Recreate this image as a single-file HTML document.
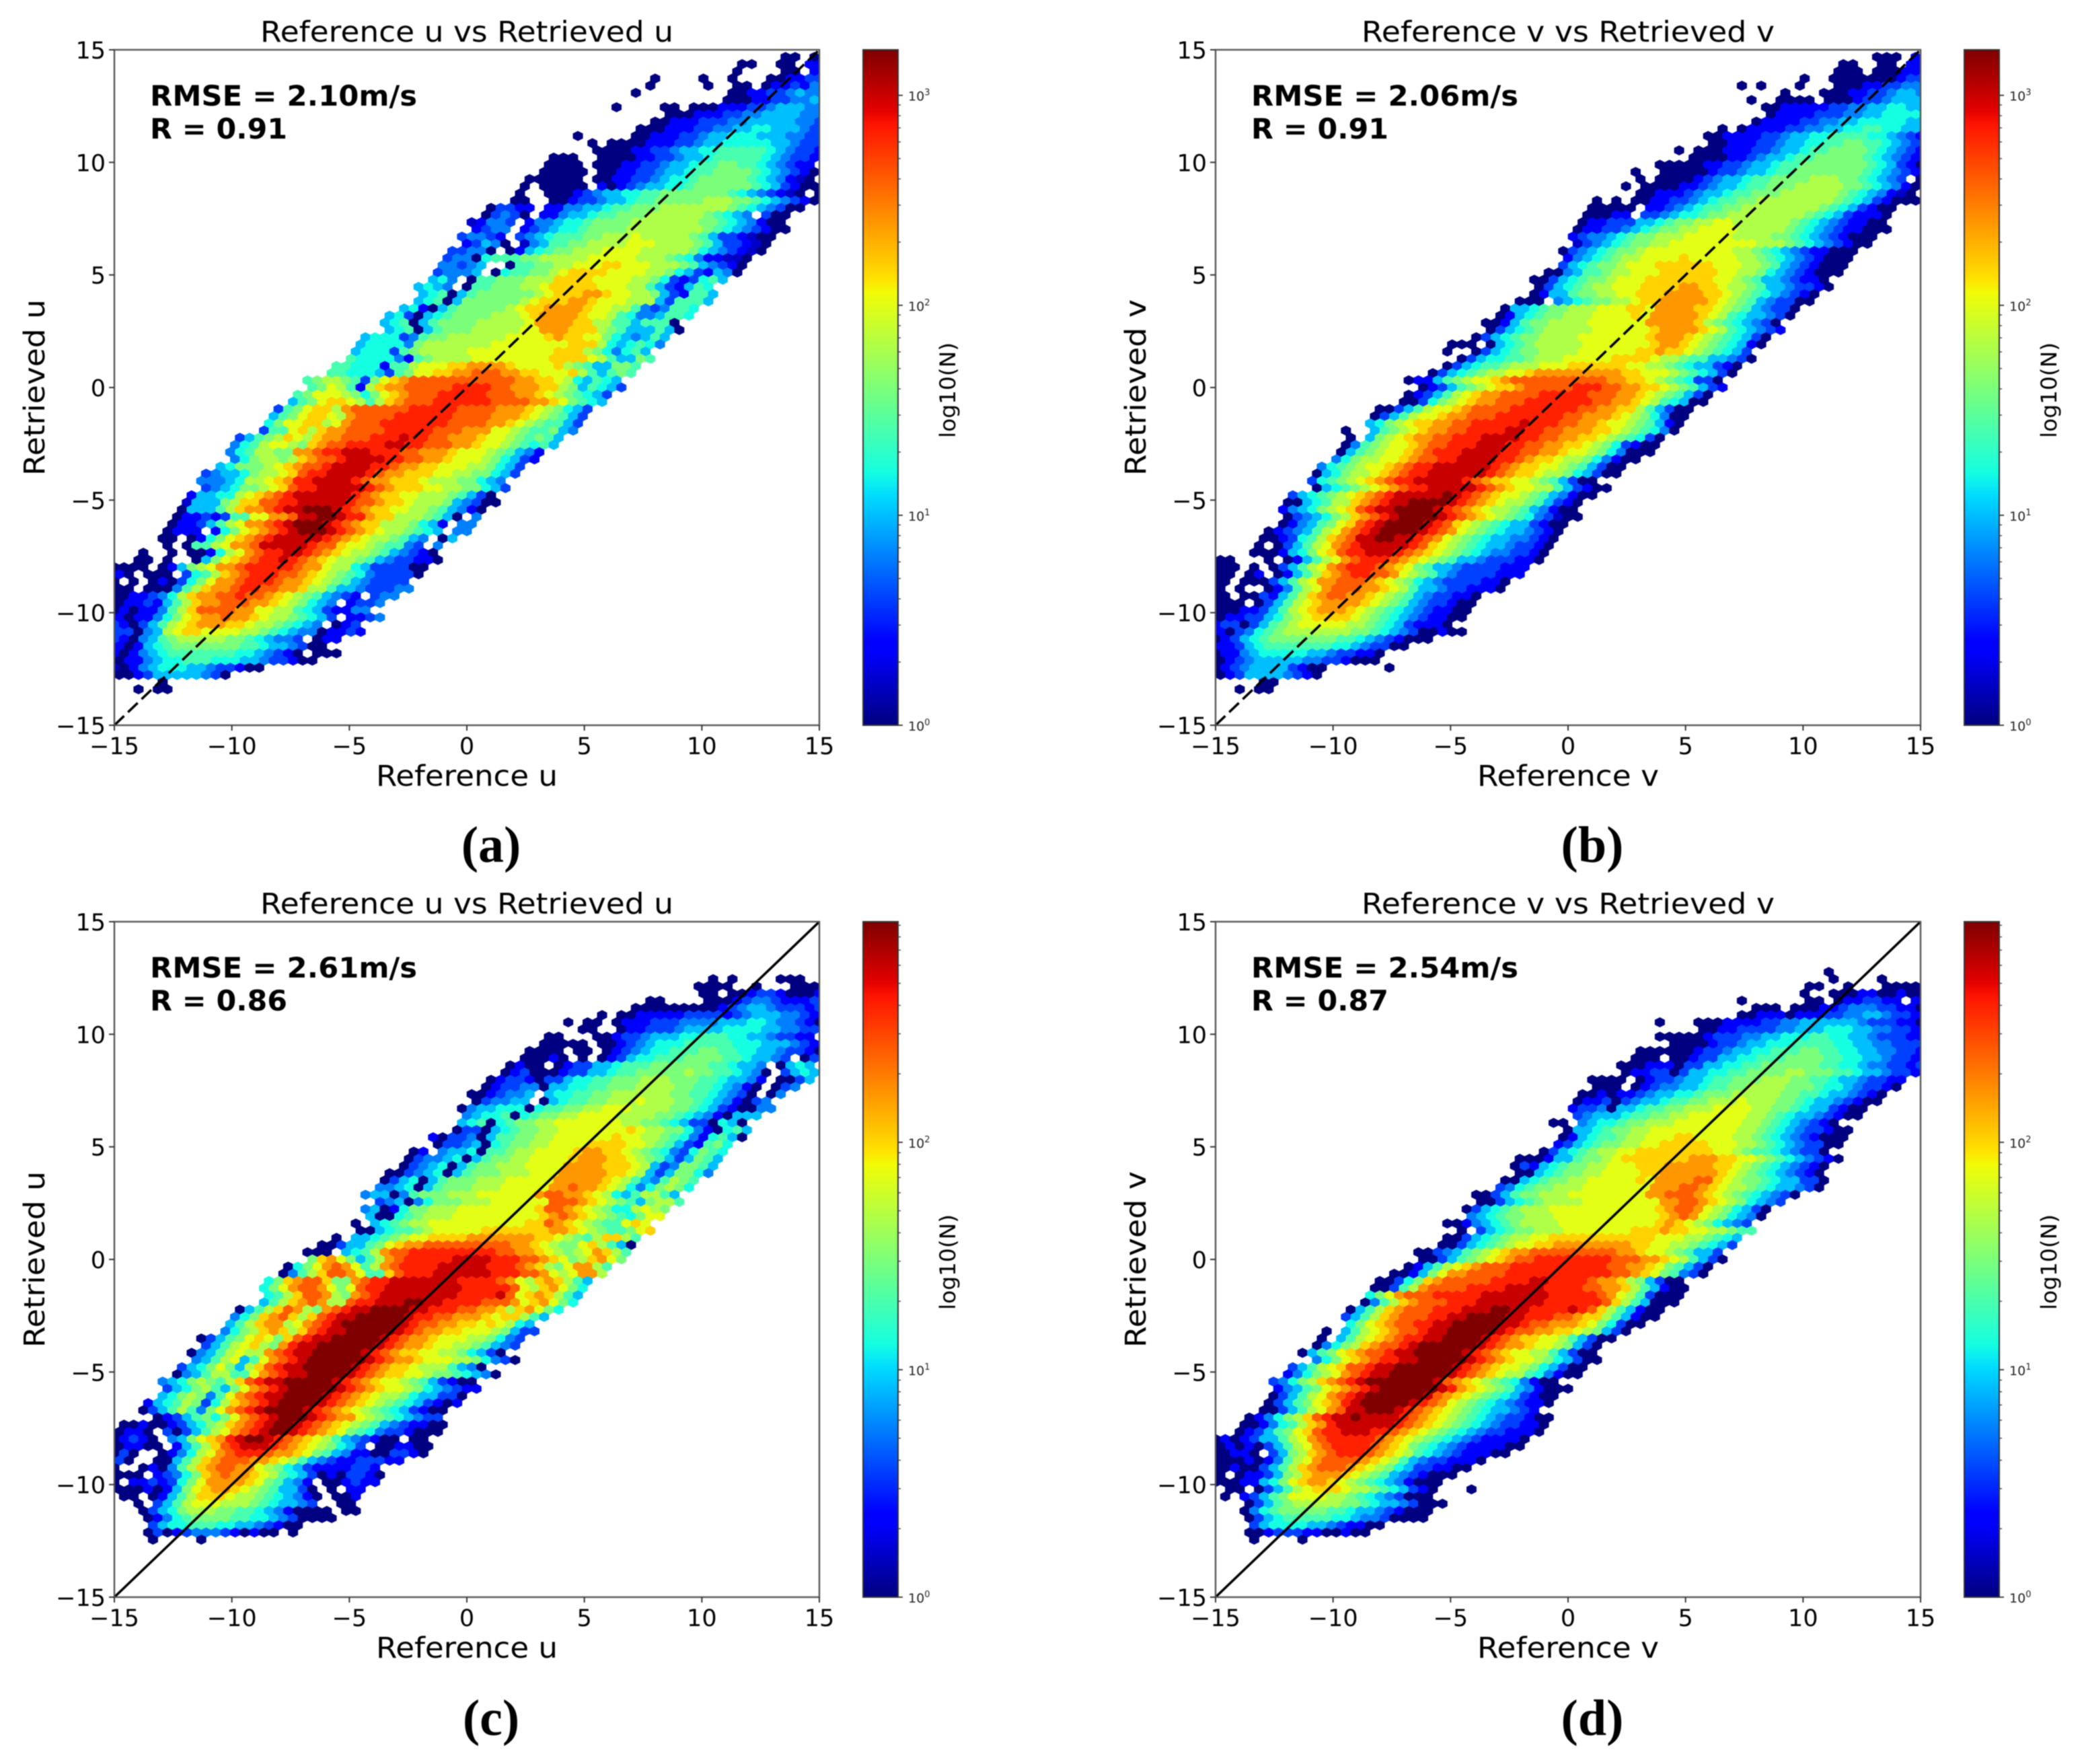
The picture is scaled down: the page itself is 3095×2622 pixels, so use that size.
<!DOCTYPE html>
<html lang="en">
<head>
<meta charset="utf-8">
<title>Reference vs Retrieved wind components</title>
<style>
html,body{margin:0;padding:0;background:#fff;}
svg{display:block;filter:blur(0.9px);}
text{font-family:"DejaVu Sans","Liberation Sans",sans-serif;fill:#000;}
</style>
</head>
<body>
<svg id="figure" xmlns="http://www.w3.org/2000/svg" width="3095" height="2622" viewBox="0 0 3095 2622">
<defs>
<linearGradient id="jetGradient" x1="0" y1="1" x2="0" y2="0">
<stop offset="0" stop-color="#00007f"/><stop offset="0.11" stop-color="#0000ff"/><stop offset="0.125" stop-color="#0000ff"/><stop offset="0.34" stop-color="#00dbff"/><stop offset="0.375" stop-color="#15ffe1"/><stop offset="0.5" stop-color="#7cff79"/><stop offset="0.64" stop-color="#f1fc06"/><stop offset="0.66" stop-color="#ffe200"/><stop offset="0.89" stop-color="#ff1300"/><stop offset="0.91" stop-color="#e30000"/><stop offset="1" stop-color="#7f0000"/>
</linearGradient>
</defs>
</svg>
<script>
// Level digits (base 36, 0..G): log10(N) = digit / 16 * panel log-max. '.' is an empty bin.
// Array index = hex row from the top of the axes. '|' marks where the 1:1 line crosses the row:
// characters before it are the bins left of the line, characters after it the bins right of it.
const panelARows=["",
"00.|0","00..00|.22","0....00|.22","0....0..0...00|2233","0.....0..00.02|23243",
"0.........0022|334544","00022|334455","0....00.0002223|3455544","000222334|45555444","002223334|455555443",
"0002223344|5566555433","0.....0022233455|6665554433","0.000022233455|66666554332","000022334556|677777654332","000..00002233455|677777654332",
"0000.00022334556|778877654322","00000.0022334556|7788887654320","000000.002233456|67888887654210","0.00000.20234556|678888887653200","0..000234556677|888888876543210.0",
"00..002334556778|88889998876543200","03322.22445567788|8999999987654300","03430.22455677888|99999987654.300","12443.24456678888|9999999887654200","2344.234566788889|9999999876543200",
"34432.34567778899|9A99999875332100","23540.1457788999|9AAA999987533210","33440.0256788999|AAAA9999986543210","344067778899999A|AAAA999876422110","44345..0778899AA|ABBAAA9998754320",
"34445.0677889ABB|BBAAAA9986532540","564.077888999BB|BBAAAA9986323675","5654.07788899ABB|BBBAAA997532576","5670578888889AB|BBCCBAA998532775","567058888889ABB|BCCBAAA999537775",
"562057888889ABB|CCCCBAA997434776","56305678888999AB|CCCCBAA976445776","567057888899999|ACCCCBB997757770","56705788899999A|ACCCBBB987555750","566634788999999A|AAABCBBAA8654575",
"56666489999999AA|AAAAAABBB9656764","566637899999AAA|AAAAAABBB9864675","7666642789999AAA|AAAAABBBBA975587","776662779AAABBCC|CCBAAAAB98755887","776665378AABBCCD|DDCCBBAAAB975787",
"78998738ABCDDDDDD|DDDDDCCBBA965765","78A9729BCCDDDDDEE|EEDDCCCBB9857653","78AAA9868ABCDDDEE|EEEDDDCCBA987653","578ABBA979BCDDDEE|EEEEDDDDCCBA8765","378ABB9CDDDDDDEEE|EEDDDDCCCBA98653",
"578ABBA9CDDDDEEEE|EEDDDDCCCBA98753","68AABB9ACDDDEEEEE|EEDDDDCCBA987753","377AB9BCCDDDDEEEE|EDDDCCCAA9877854","35789BA9BCCDDDEEEF|EEDDCCCBAA987875","4679AA98BCDDEEEEFF|EEDDDCCBAA987675",
"4679988CCDEEFFFEEE|DDCCCBAAA987542","4689989BCDDEFFFFE|EDDCCBAAA986532","568889ABCDDEFFFFE|EDCCBBAAA998653","34556899ABDEEFFFFE|DCCBBBAA9988653","4445699ABCEEFFFFE|DCCBBBA99988654",
"3456889ABDEEFFFFF|EDCBBBAA9988653","255669ABCDEFFFFFF|EDCBBAA99987530","155589BBDDEEFFFFF|EDDCBBA999854300","055579BCCDEFFGGG|FEDCBBAA99875420","02232377AACCDFFGG|FEECBB9998750.4",
"0223579ACCDEFGGG|FEDCBB9998652.44","0222.268ABCDEFGG|GFEDCBA998765.44","00.0268ABCDEFFF|FFEDCBA998754.05","0.0779ACCDFFFF|FEDDBAA987743.4","0..0.00269ACDEEF|FEDCBA998754320",
"00.0..058ABCDEEF|EDCBA99875433220","0000.02589ACCDEEE|EEDCCA9965333300","020.000.3679BCDEE|EDDCBA9876433330","0.0.020368ACCDEE|EDCCBA987543333","00.000479BCCDEE|DDCCB99755433344",
"00223469BCCDDE|DDCBA9875432.344","02232579BCCDD|DCCBA98654.2334","02022479BDDD|DCCAA9976532244","2022468ABCCD|CCBA9987653.2234","3203579ABCC|CBBA9987654.023",
"330459ABBA|AAA9987654402232","320457899|99988765443.022","202567888|8888776554300","20245677|777776654320.000","0224566|77766655433200",
"102456|6655433200","00235|5555430","|0","0.|00"];

const panelBRows=["",
"000.|2","00..00|.222","000.000|223","0..000000|0233","0.0...0...00022|33445",
"0...00022|334554","0..0000.00023|345555","0022222334|4556655","022223334|45566665","022223344|556666655",
"0.0222233445|5667766554","0022223345566|7777665432","002223345566|77887765432","0.000222334556|778888765432","000022345567|7888887654320",
"000002233455677|8888888765320","0..00000233455677|88888887654320","0.0000234556778|8889998876543.0","0.00002234556778|889999988765420","0022234556778|8899999987654210",
"0.0.00223345677889|9999999876532000","00000.22345677889|999999987653200","00022.33456678899|999999876532220","02233355678899AA|9999998765432200","0223345678899AAAA|9999987654322000",
"234456788999AAAA|A999988765432000","1345678899AAAAA|AAAA999876543200","034567889AAAAAA|AAA9987654322000","24567899AAAABA|AAAA998765432000","3567889AAABBBB|BBAAA99875432000",
"004577899AAABBB|BBBAA99865432000","003567889AAABBB|BBBBAA9875543220","03567899AAABBB|BCCBBA99875543320","025578899AABBB|CCCCBBA987654320","000.45678899ABB|CCCCCBA987543300",
"0556788999AAABB|ACCCCBBA98754330","0256788999AAAAB|ACCCCCBA97655430","00257889999AAAA|AACCCCCB98765430","03567899999AAAA|AABCCCCBA9765432","03567889999AAAA|AAABCCCBA9876530",
"000.0567899999AAA|AAAABCCBA9876520","0..03567889999AA|AAAABBCBBA987653","03566778999AAAA|ABBBBA9987755430","0356778999AAABB|BBBBAA9987655320","03567899AABCCCCC|CCCCBBAAA9876530",
"0225789AABCDDDDDD|DDDDCCBBA9876330","0235789ABBCDDDDD|EEEDDCCBBA987532","023579ABCCDDDDEE|EEEDDDCCBA987530","003689ABCCDDDEEE|EEEEDDCCBA976500","003579AABCDDDDEEE|EEEEDDCCBB975300",
"03579AABCCDDDEEEE|EEEDDCCCBA986400","5689ABBCCDDEEEEEF|EEEDDCCBAA987520","0..5789ABCCDDEEEEFF|EEDDCCCBBA987640","0.589ABCCDDEEEFFF|FEEDDCCBBA987630","04789AABCDDEEEFFF|EEDDCCBBA9863200",
"05789AABCDEEEFFFF|EEDDCCBAA9864000","46899AABCDDEEFFFF|EEDCBBA99864200","46789AABCDEEFFFFF|FEDCBBAA9875300","056899ABCDEEFFFFF|FEDCBBA99865300","36789ABCDEEFFFFF|EDCBBAA9875300",
"056789ABCDEEFFFF|FEDCBAA99753200","356789ABCDEFFFFFG|FEDCBAA98754200","0056799BCDEFFGGGG|FEDCBA99875320","245689ABDEFFGGGG|FEDCBA998754200","0345689BCDEFGGGG|FEDCBA987643100",
"024578ABDEFGGGG|FEDBA9876553200","0234579ACDEFGGGG|FEDCA9876554320","0023679BCDFFGGF|FEDCA98765544320","0.03579ACDEFFFF|FEDBA98765543320","0002568ABDEEFFF|EDCBA98765443320",
"00...0.02579ACDEEE|DCBA987554333220","000.0.03579ACDEEE|DCBA875543333222","00.02.02579BCDEE|DDCA987543333222","00.0003579ACCDDD|CBA986543333220","0.0..02479ACDDD|CCBA97554332220",
"00.0032579BCDD|CCBA9875433220","000.03579ABCC|CCBA9875433200","000223579ABC|CCBA98765432200","022335689ABB|BBA98765432200","233035789AA|AAA99876532220",
"2034678999|9999887654300200","023567888|88887765432000","223567777|77766543300","02245666|6655433220","0234555|5544332000",
"023455|553200......0","02355|554320","|00","0.|00"];

const panelCRows=["","","","","","","","",
"0.0..|..000","0000..|0...000","00.0|023320002","00....000|234432223","0000000002|3455433323",
"0.00222223333|23455544322","0.00.0222333444|455566544320","00..022333455|55666655443320","00...00233455566|777665543322","00000.0023456667|77776665554320",
"0000.00.02345667|778877665543320","00020.0.02356677|788887765543.035","0200.02335567778|88888776554.0565","02300023355677888|88988776540.3565","02332033566778889|998887765542.0035",
"02334405566778889|999887765420.034","0023445.566778899|9999887765430.04","034455.0567788999|A9998876542034","045566606778899AA|A999988765320044","456670678899AAAA|999988765420555",
"5670678899AAAAA|AA9988765330650","03305678899AAAA|AAABA99886420675","2033405778899AAAA|AABAA99876426750","033450678899AAAA|BBBBAA987532786","02.4556077899AAAA|BCCBBA9876436876",
"0344560578899AAAA|BCCCBBA987535875","0345605788999AAAA|CCCCBBBA95348875","003456057888999AAA|CCCCCBBA95358864","0356057888999AAAA|ACCCCCBA97547987","4456057888999AAAA|ACCDCCBA96468986",
"455047888999AAAAA|ACDDCCBA96579975","345046888999AAAA|AADDDCBA98758997","4502688999AAAAAA|AABDDCBA98669A98","500678999AAAAAA|AAABCDCBA98768AA","0.567899AAAAAAA|AAABBDCBA9877ABA",
"00567789AAAAABB|BBBBBCCBA98778AB","0.556789AABBBBCC|CCCCCBBA9879BB97","0035578ABCCDDDDDD|DDDCCBA988AB9750","000.5679CDDEEEEEE|EEEDDCCBA989ACB97","8BCA8579CDEEEEEFF|FFEEEDDCBA89BCA8",
"068ACDCA79CDEEEEFF|FFFEEEDCB98ACC97","0479BDDCA77BDEEEFF|FFFFEEEDDCA9ACC9","68BCDDB88CDEEFFFFF|FFEEEEDCA9BCB975","68ACDDCA8ADEEFFFFF|FFFEEEEEDA9BCA86","679BDDC98CDEFFFFF|FFFEEEEFDABCB975",
"579BCDC99DEEFFFGG|FFEEEEDDDCABCA86","0579BDC98CDEFFGGGG|FFEEEDDCCB9BCA86","468BCDB9BDEFFGGGGG|FEEDDCCCBABB975","579BCC9ACDEFGGGGGG|FEDDCCBBABA965","4689BCB9BDEFFGGGGG|FEDCCBBAAA98533",
"03578ABA8BDEFFGGGGG|FEDCCBAAA998643","3579AB98CEFFGGGGGG|FEDCCBAA9987543","04579A99CDEFFGGGGG|FEDCBBAA9986530","4579A57ACDEFGGGGGG|FEDCCBAAA9986430","3568A859BDEFFGGGGG|FEDCBBA9997540",
"04579977ACDEFFGGGG|FEDCBBAA98876540","45689879BDEFFGGGGG|FEDCBAA98753200","35689758ACDEFGGGGG|FEDCBAA98654322","5689847ACDEFFGGGG|FEDCBA998655330","256798369BCDEFGGGG|FEDCBA987653202",
"03579748ACDEFGGGG|FEDCBA987653200","02357868ACDEFGG|GFEDCCA98765433","00200235689BCDEFGG|FEDCBA9875432200","0220.303579ACDEFGG|FEDCBA8764332000","02320.458ABCEFGGF|EDCBA97543200.00",
"02200.2579BDEFFF|EDCBA98653.002200","030..02469ACDEEE|DCCBA875422003320","30..00579BCDDDC|CBA975432233322","0..020479BCDDC|CA986532222332","000.23468BCDC|CBA976530203320",
"0.2232368ACC|CCBA87542.002322","00020258ABCC|BA9875530.0.22",".00.02579BB|BA998765420.002","..0.3579AA|A9998765543..00","...035689|99887765420000.00",
"...024678|88877665430000","....3566|777665543200","...0302|3444320200.0","0.|...0"];

const panelDRows=["","","","","","","",
"0....|","0..|..0","00..0|...00000","0..0|002200200","0......00.|0223322.22",
"000.0002|2344433220","002220222|33445543322","0...000222233445|555554333220","00223333445|5566655443322","000002333445566|6776655433322",
"0000233455666|77776655443333","000000233455667|778877665544332","000.00233556677|7888877665543322","000222033556677|88888877665443323","022330355667788|88998887765543322",
"0000.023345567788|8999887765543322","000.023445567788|9999888766543320","0020223455667888|9999988776554320","02230345567788999|A99988765543200","233405567788999A|AAA998876553200",
"345556778899AAA|AAA998765543200","00.4566788999AAA|AAAA9987654320","055678899AAAAA|AAAA998765433200","025677899AAABB|AAAA998765432000","235678899AABBB|BBAAA99876543300",
"03567899AABBBB|BBBBAA9877654330","0002557889ABBBBB|BBCCCBBAA987654320","0325678899AAABBB|CCCCCBBA987654320","005678899AAAABB|CCCCCCBA987654320","005678899AAAAAB|ACCCCDDBA9887655330",
"346788999AAAAAA|ACCCDDCBA9987655430","0035788999AAAAAA|AACCDDDCBA98765430","00356789999AAAAA|AAACCDDCBA986543","035678999AAAAAAA|AAAABCDDCA986530","456788999AAAAAA|AAAAABCDCA986540",
"002456789999AAAA|AAAAAABCBA986543","0.356788999AAAA|AAABBBCBBAA99877","003567899AABBBB|BBBBBBBAAA998765","00356789AABBCCC|CCCCCBBAA9987653","00345789ABCCDDDD|DDDDDCCBAA987553",
"0035789ABCDDEEEE|EEEEDDDCCBA97530","02579ABCDDDEEEEE|EEEEEDDCCBA87530","00258ACCDDDDEEEEE|EEEEEEDDCBA87430","00368BCDDDDDEEEEF|FEEEEDCCB985300","00379CDDDDEEEEFFF|FEEEEDDCCB975200",
"68ACDDDEEEEEFFFFF|FFEEEEEDCA973000","0479BCDDDEEEFFFFF|FFEEEEEEDB975000","0579BCDDDEEEFFFGG|FFEEEEFEDB975200","3579BCDDDEEFFGGGG|FFEEEDDCBB975200","68ABCDDEEFFGGGGG|FFEDDCCCBA86300",
"0.579ABCDDEFFGGGGG|FEDDCCBBA98530","0.579ABCDEEFFGGGG|FEDCBBAA975300","04689BCDDEFGGGGGG|FEDCCBAA98530","0578ABCDDEFFGGGGG|FEDCBAA9975300","468ABCDEEFFGGGGG|FEDCBAA9865300",
"3579ABDDEFFGGGGGG|FEDCBAA9865300","24689ACDEFFGGGGGG|FEDCBA99764200","34689BCDEFGGGGGGG|FDCBA98764200","24578ABCDEFGGGGGG|FECBA987542000","03579ACDEFGGGGGG|FDCBA987653200",
"03578ABCEFGGGGGF|EDCA9876543220","003579ACDFFGGGF|EDCBA987655432","024689BDEFFGFFFF|EDCBA98765433200","0024679BCEFFFFFF|EDCBA98765433220","023578ABDEEFFFEE|DCBA987654332220",
"020235579ACDEEEEE|DCBA987654322220","020203579ACDEEEE|DCBA876543222200","00220.3589BCDEEE|DCBA97654322200","000202479ACDDDD|CBA9754332220","002003579BCDDD|CBA9865332200",
"0.0223589BCCC|BA9875432000","00022568ABCC|BA9876542000",".00.03579ABB|BA998765320...0",".0.23578AAA|A99876543000","...0357899|99988765543000",
"...046788|88877655432000","...035677|7776654430000","....3566|6655432200","...0023|332200200","0.|...0"];

const xTicks=[-15,-10,-5,0,5,10,15];
const yTicks=[-15,-10,-5,0,5,10,15];
const panelTitles=["Reference u vs Retrieved u","Reference v vs Retrieved v","Reference u vs Retrieved u","Reference v vs Retrieved v"];
const xLabels=["Reference u","Reference v","Reference u","Reference v"];
const yLabels=["Retrieved u","Retrieved v","Retrieved u","Retrieved v"];
const rmseLabels=["RMSE = 2.10m/s","RMSE = 2.06m/s","RMSE = 2.61m/s","RMSE = 2.54m/s"];
const rLabels=["R = 0.91","R = 0.91","R = 0.86","R = 0.87"];
const captions=["(a)","(b)","(c)","(d)"];
const logMax=[3.217,3.217,2.97,2.97];
const hexRows=[panelARows,panelBRows,panelCRows,panelDRows];
const dashedDiagonal=[true,true,false,false];

const NS="http://www.w3.org/2000/svg";
const root=document.getElementById('figure');
const hexWidth=30/73, rowHeight=30/94;

function setAttrs(el,o){for(const k in o){el.setAttribute(k,o[k]);}return el;}
function jetChannel(p,pts){
  for(let i=1;i<pts.length;i++){
    if(p<=pts[i][0]){
      const a=pts[i-1],b=pts[i];
      return a[1]+(b[1]-a[1])*(p-a[0])/(b[0]-a[0]);
    }
  }
  return pts[pts.length-1][1];
}
function jet(p){
  p=Math.max(0,Math.min(1,p));
  const r=jetChannel(p,[[0,0],[.35,0],[.66,1],[.89,1],[1,.5]]);
  const g=jetChannel(p,[[0,0],[.125,0],[.375,1],[.64,1],[.91,0],[1,0]]);
  const b=jetChannel(p,[[0,.5],[.11,1],[.34,1],[.65,0],[1,0]]);
  return 'rgb('+Math.round(r*255)+','+Math.round(g*255)+','+Math.round(b*255)+')';
}
function yOfRow(r){return 15-r*rowHeight;}
// Column index whose bin sits on the 1:1 line (x = y) for a given row.
function crossingColumn(r){return Math.round((yOfRow(r)+15)/hexWidth);}

function drawPanel(idx){
  const col=idx%2, row=idx>>1;
  const left=170+col*1637, top=74+row*1296, w=1048, h=1004;
  const xScale=v=>left+(v+15)/30*w;
  const yScale=v=>top+(15-v)/30*h;

  const g=document.createElementNS(NS,'g');
  
  
  root.appendChild(g);

  const clip=document.createElementNS(NS,'clipPath');
  clip.setAttribute('id','axes-clip-'+idx);
  const clipRect=document.createElementNS(NS,'rect');
  setAttrs(clipRect,{x:left,y:top,width:w,height:h});
  clip.appendChild(clipRect);
  g.appendChild(clip);

  const cells=document.createElementNS(NS,'g');
  cells.setAttribute('clip-path','url(#axes-clip-'+idx+')');
  
  
  g.appendChild(cells);

  const vmax=logMax[idx];
  const hw=hexWidth/2*w/30, rad=rowHeight*2/3*h/30;
  hexRows[idx].forEach((rowText,r)=>{
    if(rowText.indexOf('|')<0)return;
    const parts=rowText.split('|');
    const first=crossingColumn(r)-parts[0].length;
    const levels=parts[0]+parts[1];
    for(let i=0;i<levels.length;i++){
      const ch=levels[i];
      if(ch==='.')continue;
      const logN=parseInt(ch,36)/16*vmax;
      const dataX=-15+(first+i+(r%2?0.5:0))*hexWidth;
      const dataY=yOfRow(r);
      const cx=xScale(dataX), cy=yScale(dataY);
      const poly=document.createElementNS(NS,'polygon');
      
      
      const fill=jet(logN/vmax);
      setAttrs(poly,{
        points:[[cx,cy-rad],[cx+hw,cy-rad/2],[cx+hw,cy+rad/2],[cx,cy+rad],[cx-hw,cy+rad/2],[cx-hw,cy-rad/2]].map(p=>p[0].toFixed(1)+','+p[1].toFixed(1)).join(' '),
        fill:fill,stroke:fill,'stroke-width':0.6
      });
      cells.appendChild(poly);
    }
  });

  const diag=document.createElementNS(NS,'line');
  
  
  setAttrs(diag,{x1:xScale(-15),y1:yScale(-15),x2:xScale(15),y2:yScale(15),stroke:'#000','stroke-width':3.6});
  if(dashedDiagonal[idx])diag.setAttribute('stroke-dasharray','20 8');
  g.appendChild(diag);

  const frame=document.createElementNS(NS,'rect');
  
  
  setAttrs(frame,{x:left,y:top,width:w,height:h,fill:'none',stroke:'#555','stroke-width':2.4});
  g.appendChild(frame);

  xTicks.forEach(v=>{
    const t=document.createElementNS(NS,'line');
    
    
    setAttrs(t,{x1:xScale(v),x2:xScale(v),y1:top+h,y2:top+h+8,stroke:'#333','stroke-width':2});
    g.appendChild(t);
    const l=document.createElementNS(NS,'text');
    
    
    setAttrs(l,{x:xScale(v),y:top+h+43,'text-anchor':'middle','font-size':35});
    l.textContent=String(v).replace('-','\u2212');
    g.appendChild(l);
  });
  yTicks.forEach(v=>{
    const t=document.createElementNS(NS,'line');
    
    
    setAttrs(t,{x1:left-8,x2:left,y1:yScale(v),y2:yScale(v),stroke:'#333','stroke-width':2});
    g.appendChild(t);
    const l=document.createElementNS(NS,'text');
    
    
    setAttrs(l,{x:left-13,y:yScale(v)+13,'text-anchor':'end','font-size':35});
    l.textContent=String(v).replace('-','\u2212');
    g.appendChild(l);
  });

  const title=document.createElementNS(NS,'text');
  
  
  setAttrs(title,{x:left+w/2,y:top-12,'text-anchor':'middle','font-size':43,textLength:614,lengthAdjust:'spacingAndGlyphs'});
  title.textContent=panelTitles[idx];
  g.appendChild(title);

  const xt=document.createElementNS(NS,'text');
  
  
  setAttrs(xt,{x:left+w/2,y:top+h+90,'text-anchor':'middle','font-size':43,textLength:270,lengthAdjust:'spacingAndGlyphs'});
  xt.textContent=xLabels[idx];
  g.appendChild(xt);

  const yt=document.createElementNS(NS,'text');
  
  
  setAttrs(yt,{transform:'translate('+(left-104)+','+(top+h/2)+') rotate(-90)','text-anchor':'middle','font-size':43,textLength:262,lengthAdjust:'spacingAndGlyphs'});
  yt.textContent=yLabels[idx];
  g.appendChild(yt);

  const rmse=document.createElementNS(NS,'text');
  
  
  setAttrs(rmse,{x:left+53,y:top+83,'font-size':42,'font-weight':'bold',textLength:397,lengthAdjust:'spacingAndGlyphs'});
  rmse.textContent=rmseLabels[idx];
  g.appendChild(rmse);

  const rv=document.createElementNS(NS,'text');
  
  
  setAttrs(rv,{x:left+53,y:top+132,'font-size':42,'font-weight':'bold',textLength:204,lengthAdjust:'spacingAndGlyphs'});
  rv.textContent=rLabels[idx];
  g.appendChild(rv);

  const cap=document.createElementNS(NS,'text');
  
  
  cap.setAttribute('style','font-family:"Liberation Serif",serif;font-weight:bold;');
  setAttrs(cap,{x:left+560,y:top+1207+(row?2:0),'text-anchor':'middle','font-size':76});
  cap.textContent=captions[idx];
  g.appendChild(cap);

  // colour bar
  const barX=left+1113, barW=52;
  const decade=h/vmax;
  const bar=document.createElementNS(NS,'rect');
  
  
  setAttrs(bar,{x:barX,y:top,width:barW,height:h,fill:'url(#jetGradient)',stroke:'#333','stroke-width':2});
  g.appendChild(bar);

  for(let d=0;d<=3;d++){
    if(d<=vmax){
      const y=top+h-d*decade;
      const t=document.createElementNS(NS,'line');
      
      
      setAttrs(t,{x1:barX+barW,x2:barX+barW+7,y1:y,y2:y,stroke:'#333','stroke-width':1.8});
      g.appendChild(t);
      const l=document.createElementNS(NS,'text');
      
      
      setAttrs(l,{x:barX+barW+15,y:y+8,'font-size':19,style:'fill:#222'});
      l.textContent='10';
      const sup=document.createElementNS(NS,'tspan');
      setAttrs(sup,{dy:-8,'font-size':13});
      sup.textContent=String(d);
      l.appendChild(sup);
      g.appendChild(l);
    }
    for(let m=2;m<10;m++){
      const lv=d+Math.log10(m);
      if(lv<vmax){
        const y=top+h-lv*decade;
        const t=document.createElementNS(NS,'line');
        
        
        setAttrs(t,{x1:barX+barW,x2:barX+barW+4,y1:y,y2:y,stroke:'#444','stroke-width':1.4});
        g.appendChild(t);
      }
    }
  }

  const cbl=document.createElementNS(NS,'text');
  
  
  setAttrs(cbl,{transform:'translate('+(barX+137)+','+(top+h/2+4)+') rotate(-90)','text-anchor':'middle','font-size':32,textLength:142,lengthAdjust:'spacingAndGlyphs'});
  cbl.textContent='log10(N)';
  g.appendChild(cbl);
}
[0,1,2,3].forEach(drawPanel);
</script>
</body>
</html>
